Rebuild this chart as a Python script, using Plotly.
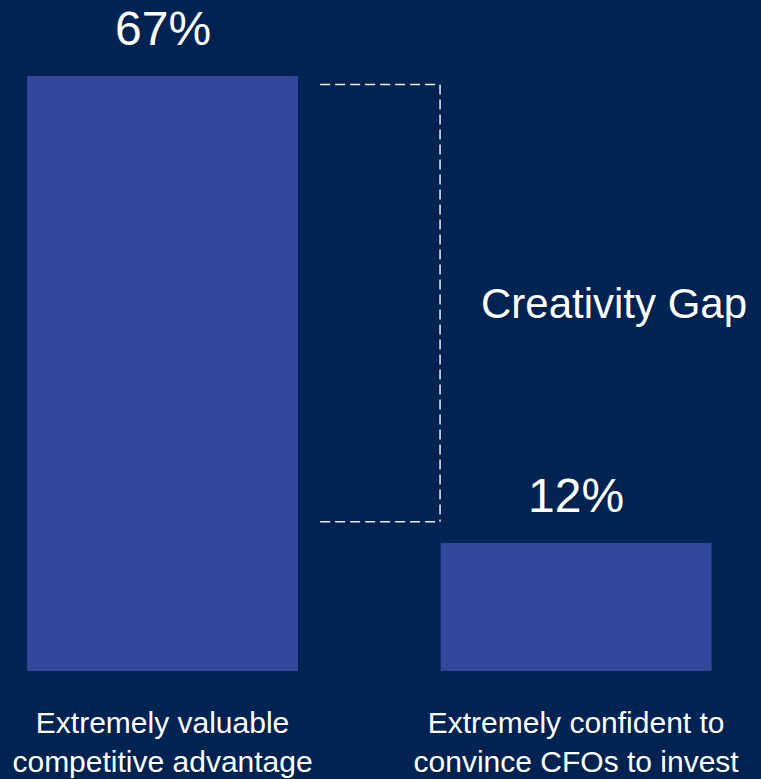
import plotly.graph_objects as go

categories = ["Extremely valuable<br>competitive advantage",
              "Extremely confident to<br>convince CFOs to invest"]
values = [67, 12]
value_labels = ["67%", "12%"]
gap_label = "Creativity Gap"
y_min, y_max = -3.07, 75.95

BG = "#002352"
BAR = "#33479C"
FONT = "Liberation Sans, Arial, sans-serif"

fig = go.Figure()
fig.add_trace(go.Bar(
    x=categories, y=[v - y_min for v in values], base=y_min, width=0.655,
    marker=dict(color=BAR, line=dict(width=0)),
    hoverinfo="skip",
))

for c, v, t in zip(categories, values, value_labels):
    fig.add_annotation(x=c, y=v, text=t, showarrow=False,
                       xanchor="center", yanchor="bottom", yshift=19,
                       font=dict(family=FONT, size=48, color="white"))

bracket_top = values[0] - 1
bracket_bottom = values[1] + 2.5
bx0, bx1 = 0.381, 0.671
dash_line = dict(color="#e8eef5", width=1.5, dash="10px,5px")
fig.add_shape(type="line", xref="x", yref="y", x0=bx0, x1=bx1,
              y0=bracket_top, y1=bracket_top, line=dash_line)
fig.add_shape(type="line", xref="x", yref="y", x0=bx1, x1=bx1,
              y0=bracket_top, y1=bracket_bottom, line=dash_line)
fig.add_shape(type="line", xref="x", yref="y", x0=bx0, x1=bx1,
              y0=bracket_bottom, y1=bracket_bottom, line=dash_line)

fig.add_annotation(x=0.765, y=(bracket_top + bracket_bottom) / 2,
                   text=gap_label, showarrow=False,
                   xanchor="left", yanchor="middle",
                   font=dict(family=FONT, size=42, color="white"))

fig.update_layout(
    width=761, height=779,
    margin=dict(l=0, r=0, t=0, b=108),
    paper_bgcolor=BG, plot_bgcolor=BG,
    showlegend=False,
    xaxis=dict(range=[-0.393, 1.447], showgrid=False, zeroline=False,
               showline=False, ticks="", ticklabelstandoff=31,
               automargin=False,
               tickfont=dict(family=FONT, size=30, color="white")),
    yaxis=dict(range=[y_min, y_max], visible=False, showgrid=False,
               zeroline=False, automargin=False),
)

fig.write_html("out.html", config={"displayModeBar": False}, post_script=(
    "document.body.style.margin='0';"
    "document.body.style.padding='0';"
    "document.body.style.overflow='hidden';"
    "document.body.style.background='" + BG + "';"
))
